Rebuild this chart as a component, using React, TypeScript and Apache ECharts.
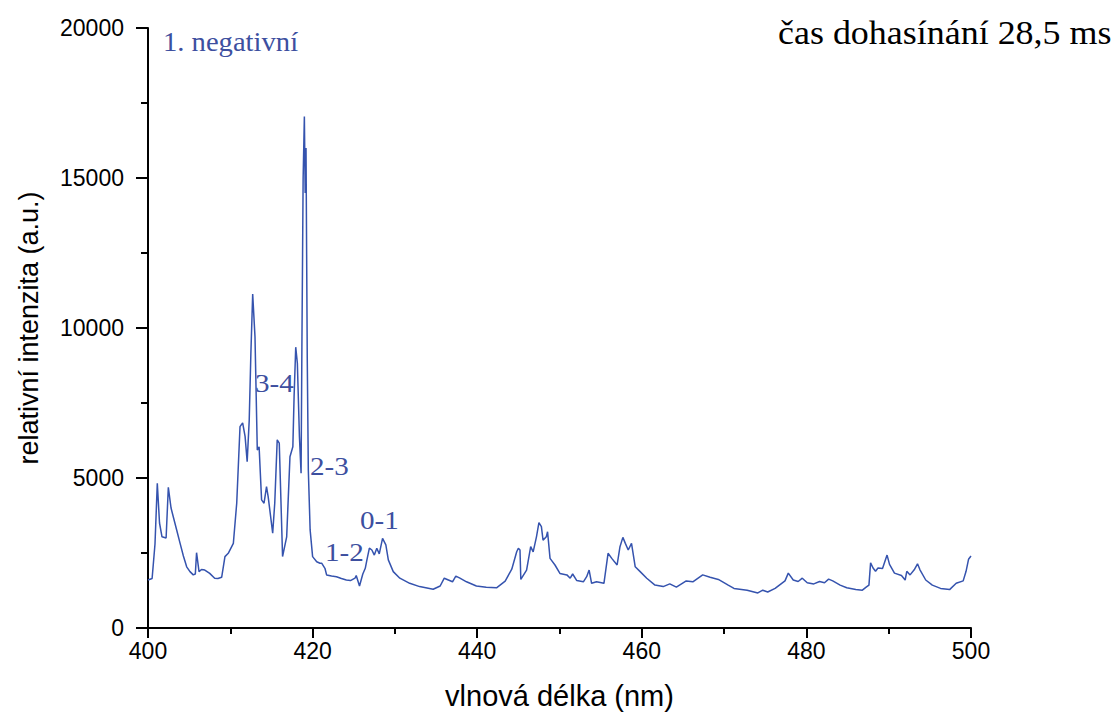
import React, { useEffect, useRef } from "react";
import * as echarts from "echarts";

const wavelengths: number[] = [
  400.0, 400.5, 400.85, 401.13, 401.4, 401.7, 402.2, 402.47, 402.8, 403.07, 403.5, 403.9, 404.3, 404.7,
  405.1, 405.5, 405.75, 405.9, 406.2, 406.5, 406.9, 407.5, 408.1, 408.5, 408.95, 409.35, 409.75, 410.37,
  410.78, 411.18, 411.5, 411.8, 412.05, 412.3, 412.5, 412.72, 413.0, 413.28, 413.5, 413.8, 414.1, 414.4,
  414.6, 415.15, 415.4, 415.7, 415.95, 416.35, 416.85, 417.25, 417.6, 417.75, 417.95, 418.15, 418.4,
  418.6, 418.7, 418.85, 419.0, 419.1, 419.2, 419.35, 419.48, 419.7, 420.0, 420.5, 420.9, 421.1, 421.5,
  421.7, 422.3, 422.9, 423.5, 424.1, 424.6, 425.15, 425.3, 425.7, 426.1, 426.4, 426.6, 426.9, 427.2,
  427.5, 427.8, 428.1, 428.5, 428.9, 429.2, 429.8, 430.6, 431.8, 433.0, 434.65, 435.5, 436.0, 436.5,
  437.0, 437.4, 437.9, 438.7, 439.9, 441.1, 442.35, 443.4, 444.2, 444.8, 445.0, 445.2, 445.3, 446.0,
  446.5, 446.8, 447.2, 447.5, 447.8, 448.0, 448.4, 448.55, 448.85, 449.45, 450.05, 450.9, 451.3, 451.6,
  452.1, 452.9, 453.3, 453.6, 453.9, 454.5, 455.4, 455.9, 456.35, 457.0, 457.35, 457.7, 458.0, 458.35,
  458.75, 459.2, 459.8, 460.6, 461.6, 462.6, 463.4, 464.2, 465.4, 466.2, 467.4, 468.3, 469.3, 470.5,
  471.2, 472.8, 474.1, 474.7, 475.3, 476.2, 477.0, 477.4, 477.8, 478.4, 479.0, 479.5, 480.1, 480.9,
  481.6, 482.2, 482.7, 483.2, 484.1, 484.9, 486.0, 486.8, 487.3, 487.6, 487.8, 488.1, 488.4, 488.7,
  489.25, 489.8, 490.1, 490.7, 491.55, 492.0, 492.2, 492.6, 493.1, 493.5, 493.8, 494.5, 495.3, 496.3,
  497.4, 498.2, 499.05, 499.4, 499.7, 500.0,
];

const intensities: number[] = [
  1600, 1650, 2800, 4820, 3500, 3040, 3000, 4690, 4000, 3710, 3250, 2820, 2400, 2040,
  1880, 1770, 1800, 2510, 1880, 1950, 1930, 1820, 1660, 1650, 1690, 2380, 2490, 2820,
  4160, 6710, 6840, 6380, 5540, 6930, 9150, 11130, 9710, 5930, 6040, 4270, 4160, 4710,
  4380, 3160, 4160, 6270, 6160, 2380, 3040, 5710, 6040, 7710, 9360, 8820, 6380,
  5160, 9380, 15000, 17050, 14500, 16000, 9000, 5270, 3270, 2380, 2210, 2160, 2160, 1990,
  1770, 1730, 1710, 1650, 1600, 1580, 1660, 1750, 1400, 1800, 1990, 2270, 2660, 2600,
  2430, 2660, 2470, 2990, 2770, 2270, 1880, 1660, 1490, 1380, 1290, 1400, 1660, 1600,
  1540, 1730, 1660, 1540, 1400, 1360, 1340, 1560, 1960, 2540, 2660, 2600, 1620, 1930,
  2710, 2540, 3040, 3510, 3380, 2930, 3040, 3210, 2320, 2100, 1820, 1770, 1660, 1800,
  1580, 1540, 1710, 1930, 1490, 1540, 1490, 2490, 2320, 2100, 2710, 3020, 2820, 2600,
  2820, 2040, 1880, 1660, 1430, 1380, 1470, 1360, 1570, 1540, 1770, 1690, 1620, 1430,
  1320, 1260, 1170, 1260, 1200, 1320, 1490, 1570, 1830, 1600, 1550, 1660, 1510, 1470,
  1550, 1510, 1630, 1570, 1430, 1340, 1280, 1260, 1370, 1430, 2170, 2000, 1890, 2000,
  1980, 2430, 2120, 1830, 1750, 1600, 1890, 1770, 1940, 2140, 1940, 1600, 1430, 1320,
  1280, 1490, 1570, 1890, 2290, 2400,
];

const xTicks = { min: 400, max: 500, interval: 20 };
const yTicks = { min: 0, max: 20000, interval: 5000 };

const xAxisTitle = "vlnová délka (nm)";
const yAxisTitle = "relativní intenzita (a.u.)";
const seriesTitle = "1. negativní";
const timeNote = "čas dohasínání 28,5 ms";
const bandLabels: string[] = ["3-4", "2-3", "0-1", "1-2"];

export default function App() {
  const ref = useRef<HTMLDivElement>(null);

  useEffect(() => {
    if (!ref.current) return;
    const chart = echarts.init(ref.current, undefined, { renderer: "svg" });
    const data = wavelengths.map((w, i) => [w, intensities[i]]);
    const lineColor = "#3553ae";
    const textColor = "#3d4f9f";
    const serif = "'Liberation Serif', 'DejaVu Serif', serif";
    const sans = "'Liberation Sans', Arial, sans-serif";
    const bandPos = [
      [255, 383],
      [310, 466],
      [360, 520],
      [325, 552],
    ];
    chart.setOption({
      animation: false,
      backgroundColor: "#ffffff",
      grid: { left: 148, right: 144, top: 28, bottom: 87, containLabel: false },
      xAxis: {
        type: "value",
        min: xTicks.min,
        max: xTicks.max,
        interval: xTicks.interval,
        name: xAxisTitle,
        nameLocation: "middle",
        nameGap: 53,
        nameTextStyle: { fontFamily: sans, fontSize: 29, color: "#000" },
        axisLine: { show: true, onZero: false, lineStyle: { color: "#000", width: 2 } },
        axisTick: { show: true, length: 10, lineStyle: { color: "#000", width: 2 } },
        minorTick: { show: true, splitNumber: 2, length: 6, lineStyle: { color: "#000", width: 2 } },
        axisLabel: { fontFamily: sans, fontSize: 23, color: "#000", margin: 11, formatter: (v: number) => String(v) },
        splitLine: { show: false },
      },
      yAxis: {
        type: "value",
        min: yTicks.min,
        max: yTicks.max,
        interval: yTicks.interval,
        name: yAxisTitle,
        nameLocation: "middle",
        nameGap: 106,
        nameTextStyle: { fontFamily: sans, fontSize: 27, color: "#000" },
        axisLine: { show: true, onZero: false, lineStyle: { color: "#000", width: 2 } },
        axisTick: { show: true, length: 12, lineStyle: { color: "#000", width: 2 } },
        minorTick: { show: true, splitNumber: 2, length: 7, lineStyle: { color: "#000", width: 2 } },
        axisLabel: { fontFamily: sans, fontSize: 23, color: "#000", margin: 24, formatter: (v: number) => String(v) },
        splitLine: { show: false },
      },
      series: [
        {
          type: "line",
          data,
          showSymbol: false,
          symbol: "none",
          smooth: false,
          lineStyle: { color: lineColor, width: 1.5 },
        },
      ],
      graphic: [
        {
          type: "text",
          x: 163,
          y: 42,
          scaleX: 1.06,
          style: { text: seriesTitle, fontFamily: serif, fontSize: 27, fill: textColor, textVerticalAlign: "middle" },
        },
        {
          type: "text",
          x: 778,
          y: 33,
          scaleX: 1.09,
          style: { text: timeNote, fontFamily: serif, fontSize: 33, fill: "#000", textVerticalAlign: "middle" },
        },
        ...bandLabels.map((t, i) => ({
          type: "text",
          x: bandPos[i][0],
          y: bandPos[i][1],
          scaleX: 1.12,
          style: {
            text: t,
            fontFamily: serif,
            fontSize: 26,
            fill: textColor,
            textVerticalAlign: "middle",
          },
        })),
      ],
    });
    return () => chart.dispose();
  }, []);

  return (
    <div
      ref={ref}
      style={{ position: "fixed", left: 0, top: 0, width: 1115, height: 715, background: "#fff" }}
    />
  );
}
